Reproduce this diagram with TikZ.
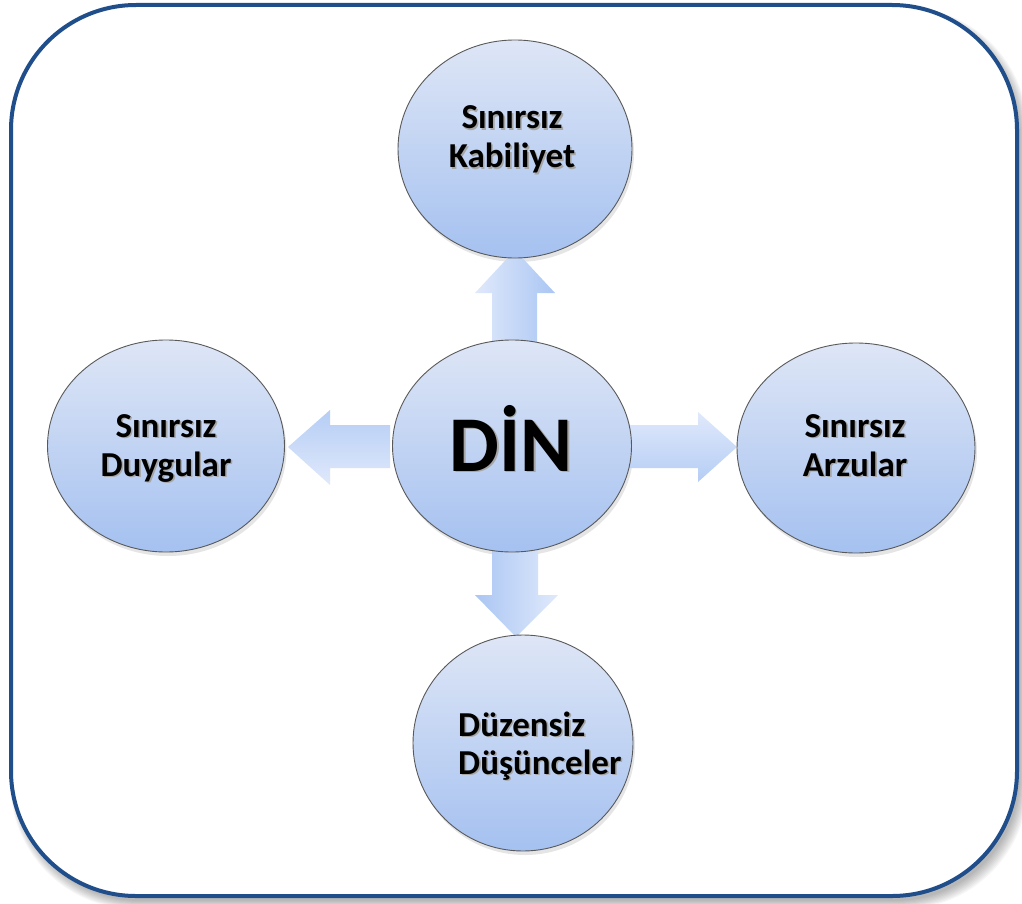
\documentclass[tikz,border=0pt]{standalone}
\usepackage{fontspec}
\setmainfont{Carlito}
\usetikzlibrary{shapes.geometric}
\definecolor{framecol}{RGB}{31,78,138}
\definecolor{bubtop}{RGB}{222,230,246}
\definecolor{bubbot}{RGB}{165,193,240}
\definecolor{arlight}{RGB}{224,233,251}
\definecolor{ardark}{RGB}{170,198,243}
\newcommand\shtext[1]{\rlap{\kern1.6pt\raisebox{-1.6pt}{\textcolor{black!35}{#1}}}#1}
\tikzset{
  bubble/.style={ellipse, draw=black!65, line width=0.9pt, top color=bubtop, bottom color=bubbot, inner sep=0pt},
  bubshadow/.style={ellipse, fill=black, fill opacity=0.10, draw=none, inner sep=0pt},
  lbl/.style={font=\fontsize{35}{39}\selectfont\bfseries, text=black, inner sep=0pt, anchor=base},
  bigl/.style={font=\fontsize{79}{88}\selectfont\bfseries, text=black, inner sep=0pt, anchor=base},
  arrowshape/.style={draw=none}
}
\begin{document}
\begin{tikzpicture}[x=1pt,y=-1pt]
\useasboundingbox (0,0) rectangle (1022,904);
% frame shadow
\foreach \i in {1,...,9}{
  \fill[black, opacity=0.035, rounded corners=125pt] (13-\i*0.6+3,7-\i*0.6+5) rectangle (1016+\i+3,896+\i+4);
}
\draw[framecol, line width=4pt, fill=white, rounded corners=125pt] (11,5) rectangle (1017,896);

% circle shadows
\foreach \cx/\cy/\w/\h in {515/149/234/218, 512/446/239/212, 166/446/237/212, 856/448/238/210, 523/743/220/216}{
  \node[bubshadow, minimum width=\w pt, minimum height=\h pt] at (\cx+2,\cy+4) {};
}

% arrows
\path[arrowshape, left color=arlight, right color=ardark]
  (492,345) -- (492,293) -- (475,293) -- (515,250) -- (555,293) -- (537,293) -- (537,345) -- cycle;
\path[arrowshape, left color=ardark, right color=arlight]
  (492,545) -- (492,595) -- (475,595) -- (516,637) -- (558,595) -- (538,595) -- (538,545) -- cycle;
\path[arrowshape, top color=arlight, bottom color=ardark!80!arlight]
  (625,425) -- (698,425) -- (698,412) -- (737,447) -- (698,482) -- (698,468) -- (625,468) -- cycle;
\path[arrowshape, top color=ardark!80!arlight, bottom color=arlight]
  (390,425) -- (330,425) -- (330,410) -- (288,447) -- (330,485) -- (330,468) -- (390,468) -- cycle;

% circles
\node[bubble, minimum width=234pt, minimum height=218pt] (top) at (515,149) {};
\node[bubble, minimum width=239pt, minimum height=212pt] (din) at (512,446) {};
\node[bubble, minimum width=237pt, minimum height=212pt] (left) at (166,446) {};
\node[bubble, minimum width=238pt, minimum height=210pt] (right) at (856,448) {};
\node[bubble, minimum width=220pt, minimum height=216pt] (bottom) at (523,743) {};

% labels
\node[lbl] (top1) at (512,129) {\shtext{Sınırsız}};
\node[lbl] (top2) at (512,168) {\shtext{Kabiliyet}};
\node[bigl] (dinlbl) at (511,471) {\shtext{DİN}};
\node[lbl] (left1) at (166,437) {\shtext{Sınırsız}};
\node[lbl] (left2) at (166,476) {\shtext{Duygular}};
\node[lbl] (right1) at (855,437) {\shtext{Sınırsız}};
\node[lbl] (right2) at (855,476) {\shtext{Arzular}};
\node[lbl, anchor=base west] (bot1) at (458,736) {\shtext{Düzensiz}};
\node[lbl, anchor=base west] (bot2) at (458,774) {\shtext{Düşünceler}};
\end{tikzpicture}
\end{document}
